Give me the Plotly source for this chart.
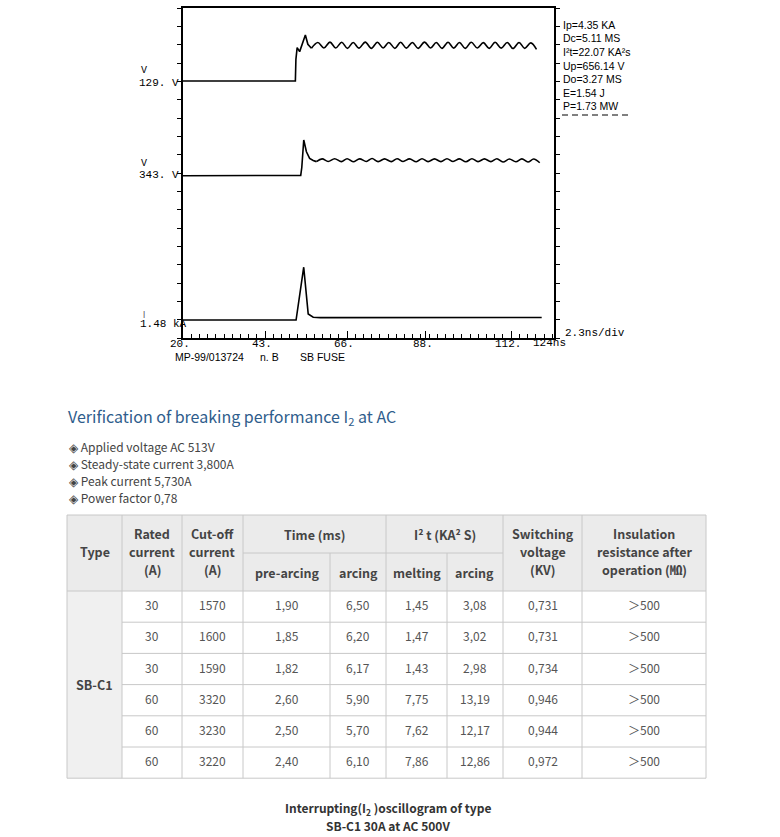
import plotly.graph_objects as go

W, H = 780, 837

# ---------------- oscillogram data (x: time axis units, y: divisions) ----------------
v1_step_t = [20, 51.5, 51.65, 52.0, 52.7, 54.3, 55.0, 56.0]
v1_step_a = [14.02, 14.02, 15.2, 15.84, 15.62, 16.53, 16.02, 15.80]
v1_osc_t = [56.0, 57.8, 59.5, 61.2, 62.8, 64.5, 66.1, 67.7, 69.3, 71.1, 72.8, 74.5, 76.1, 77.7,
            79.4, 81.0, 82.6, 84.3, 85.9, 87.7, 89.4, 91.0, 92.6, 94.3, 95.9, 97.5, 99.1, 100.8,
            102.5, 104.2, 105.8, 107.5, 109.2, 110.9, 112.5, 114.2, 115.8, 117.5, 119.1]
v1_osc_a = [15.80, 16.12, 15.82, 16.14, 15.82, 16.13, 15.80, 16.12, 15.81, 16.14, 15.80, 16.13,
            15.82, 16.12, 15.80, 16.13, 15.81, 16.12, 15.80, 16.14, 15.82, 16.12, 15.80, 16.13,
            15.81, 16.12, 15.80, 16.13, 15.82, 16.11, 15.80, 16.13, 15.81, 16.12, 15.79, 16.12,
            15.80, 16.10, 15.74]

v2_step_t = [20, 53.0, 53.3, 53.85, 54.6, 55.5, 56.5, 57.4]
v2_step_a = [8.85, 8.87, 9.3, 10.80, 10.16, 9.80, 9.68, 9.62]
v2_osc_t = [57.4, 59.0, 60.7, 62.5, 64.4, 66.0, 67.7, 69.5, 71.4, 73.0, 74.7, 76.5, 78.4, 80.0,
            81.7, 83.5, 85.4, 87.0, 88.7, 90.5, 92.3, 94.0, 95.7, 97.5, 99.3, 101.0, 102.7, 104.5,
            106.3, 108.0, 109.7, 111.5, 113.3, 115.0, 116.7, 118.3, 120.0]
v2_osc_a = [9.62, 9.77, 9.63, 9.78, 9.62, 9.78, 9.61, 9.77, 9.63, 9.79, 9.62, 9.77, 9.62, 9.78,
            9.63, 9.77, 9.61, 9.78, 9.62, 9.77, 9.62, 9.78, 9.63, 9.77, 9.61, 9.78, 9.62, 9.77,
            9.62, 9.78, 9.60, 9.76, 9.61, 9.77, 9.60, 9.76, 9.56]

i_t = [20, 51.7, 53.84, 55.1, 56.5, 58.5, 120.55]
i_a = [0.98, 0.98, 3.86, 1.31, 1.13, 1.11, 1.12]

x_tickvals = [20, 43, 66, 88, 112]
x_ticktext = ["20.", "43.", "66.", "88.", "112."]

readouts = ["Ip=4.35 KA", "Dc=5.11 MS", "I²t=22.07 KA²s", "Up=656.14 V",
            "Do=3.27 MS", "E=1.54 J", "P=1.73 MW"]

# ---------------- text / table data ----------------
title_text = "Verification of breaking performance I<sub>2</sub> at AC"
bullets = ["Applied voltage AC 513V", "Steady-state current 3,800A",
           "Peak current 5,730A", "Power factor 0,78"]

fuse_type = "SB-C1"
rated = ["30", "30", "30", "60", "60", "60"]
cutoff = ["1570", "1600", "1590", "3320", "3230", "3220"]
pre_arcing = ["1,90", "1,85", "1,82", "2,60", "2,50", "2,40"]
arcing_ms = ["6,50", "6,20", "6,17", "5,90", "5,70", "6,10"]
melting = ["1,45", "1,47", "1,43", "7,75", "7,62", "7,86"]
arcing_i2t = ["3,08", "3,02", "2,98", "13,19", "12,17", "12,86"]
switching = ["0,731", "0,731", "0,734", "0,946", "0,944", "0,972"]
insulation = ["＞500", "＞500", "＞500", "＞500", "＞500", "＞500"]

caption = ["Interrupting(I<sub>2</sub> )oscillogram of type", "SB-C1 30A at AC 500V"]

# ---------------- layout helpers (pixel -> paper) ----------------
def PX(x):
    return x / W


def PY(y):
    return 1 - y / H


MONO = "Liberation Mono, DejaVu Sans Mono, monospace"
SANS = "Liberation Sans, Arial, sans-serif"
KR = "Noto Sans CJK KR, Noto Sans, sans-serif"

fig = go.Figure()
line_style = dict(color="black", width=1.6)
fig.add_trace(go.Scatter(x=v1_step_t, y=v1_step_a, mode="lines", line=line_style, hoverinfo="skip"))
fig.add_trace(go.Scatter(x=v1_osc_t, y=v1_osc_a, mode="lines", line=dict(line_style, shape="spline"), hoverinfo="skip"))
fig.add_trace(go.Scatter(x=v2_step_t, y=v2_step_a, mode="lines", line=line_style, hoverinfo="skip"))
fig.add_trace(go.Scatter(x=v2_osc_t, y=v2_osc_a, mode="lines", line=dict(line_style, shape="spline"), hoverinfo="skip"))
fig.add_trace(go.Scatter(x=i_t, y=i_a, mode="lines", line=line_style, hoverinfo="skip"))

# plot area in pixels
L, R, T, B = 183, 554, 8, 338

ann = []
shapes = []

def text(x, y, s, size=12, family=KR, color="#444", xanchor="center", bold=False, xref="paper", xshift=0):
    if bold:
        s = "<b>" + s + "</b>"
    ann.append(dict(x=PX(x) if xref == "paper" else x, y=PY(y), xref=xref, yref="paper", text=s,
                    showarrow=False, xanchor=xanchor, yanchor="middle", xshift=xshift,
                    font=dict(size=size, family=family, color=color)))

# oscillogram labels
text(139, 71, "V", 10, MONO, "black", "left")
text(137, 83, "129. V", 11, MONO, "black", "left")
text(139, 163, "V", 10, MONO, "black", "left")
text(137, 175, "343. V", 11, MONO, "black", "left")
text(140, 314, "|", 7, MONO, "black", "left")
text(138, 324, "1.48 kA", 11, MONO, "black", "left")
for v, s in zip(x_tickvals, x_ticktext):
    text(v, 344, s, 11, MONO, "black", "center", xref="x", xshift=-3)
text(549, 343, "124ns", 11, MONO, "black", "center")
text(563, 333, "2.3ns/div", 11, MONO, "black", "left")
text(173, 357, "MP-99/013724", 10.5, SANS, "black", "left")
text(258, 357, "n. B", 10.5, SANS, "black", "left")
text(298, 357, "SB FUSE", 10.5, SANS, "black", "left")
for k, s in enumerate(readouts):
    text(561, 25 + k * 13.5, s, 10.5, SANS, "black", "left")
shapes.append(dict(type="line", xref="paper", yref="paper", x0=PX(562), x1=PX(628), y0=PY(115), y1=PY(115),
                   line=dict(color="black", width=1, dash="6px,4px")))

# title and bullets
text(66, 417, title_text, 16, KR, "#2f5d8c", "left")
for k, b in enumerate(bullets):
    text(67, 446 + k * 17, "◈ " + b, 12, KR, "#444", "left")

# ---------------- table ----------------
cols = [67, 122, 182, 243, 330, 386, 447, 503, 582, 706]
top, mid, hb = 515, 553, 591
row_h = 31.2
nrows = len(rated)
bottom = hb + row_h * nrows
grid = "#c8c8c8"

def rect(x0, y0, x1, y1, fill):
    shapes.append(dict(type="rect", xref="paper", yref="paper", x0=PX(x0), x1=PX(x1), y0=PY(y1), y1=PY(y0),
                       fillcolor=fill, line=dict(width=0), layer="below"))

def hline(x0, x1, y):
    shapes.append(dict(type="line", xref="paper", yref="paper", x0=PX(x0), x1=PX(x1), y0=PY(y), y1=PY(y),
                       line=dict(color=grid, width=1)))

def vline(x, y0, y1):
    shapes.append(dict(type="line", xref="paper", yref="paper", x0=PX(x), x1=PX(x), y0=PY(y0), y1=PY(y1),
                       line=dict(color=grid, width=1)))

rect(cols[0], top, cols[-1], hb, "#ebebeb")
rect(cols[0], hb, cols[1], bottom, "#f0f0f0")
hline(cols[0], cols[-1], top)
hline(cols[0], cols[-1], hb)
hline(cols[0], cols[-1], bottom)
hline(cols[3], cols[7], mid)
for r in range(1, nrows):
    hline(cols[1], cols[-1], hb + r * row_h)
for k, c in enumerate(cols):
    if k in (4, 6):
        vline(c, mid, bottom)
    else:
        vline(c, top, bottom)

# header texts
hc = "#444"
def ctr(a, b):
    return (cols[a] + cols[b]) / 2

text(ctr(0, 1), 551, "Type", 12.5, KR, hc, bold=True)
for k, s in enumerate(["Rated", "current", "(A)"]):
    text(ctr(1, 2), 533 + k * 18, s, 12.5, KR, hc, bold=True)
for k, s in enumerate(["Cut-off", "current", "(A)"]):
    text(ctr(2, 3), 533 + k * 18, s, 12.5, KR, hc, bold=True)
text(ctr(3, 5), 534, "Time (ms)", 12.5, KR, hc, bold=True)
text(ctr(3, 4), 572, "pre-arcing", 12.5, KR, hc, bold=True)
text(ctr(4, 5), 572, "arcing", 12.5, KR, hc, bold=True)
text(ctr(5, 7), 534, "I² t (KA² S)", 12.5, KR, hc, bold=True)
text(ctr(5, 6), 572, "melting", 12.5, KR, hc, bold=True)
text(ctr(6, 7), 572, "arcing", 12.5, KR, hc, bold=True)
for k, s in enumerate(["Switching", "voltage", "(KV)"]):
    text(ctr(7, 8), 533 + k * 18, s, 12.5, KR, hc, bold=True)
for k, s in enumerate(["Insulation", "resistance after", "operation (㏁)"]):
    text(ctr(8, 9), 533 + k * 18, s, 12.5, KR, hc, bold=True)

# body
text(ctr(0, 1), (hb + bottom) / 2, fuse_type, 12.5, KR, hc, bold=True)
body_cols = [rated, cutoff, pre_arcing, arcing_ms, melting, arcing_i2t, switching, insulation]
for ci, vals in enumerate(body_cols):
    for r, v in enumerate(vals):
        text(ctr(ci + 1, ci + 2), hb + (r + 0.5) * row_h - 2, v, 12, KR, "#555")

# caption
for k, s in enumerate(caption):
    text(388, 808 + k * 17.5, s, 12, KR, "#333", bold=True)

fig.update_layout(
    width=W, height=H, margin=dict(l=0, r=0, t=0, b=0, autoexpand=False),
    paper_bgcolor="white", plot_bgcolor="white", showlegend=False,
    annotations=ann, shapes=shapes,
    xaxis=dict(domain=[PX(L), PX(R)], range=[20, 124], showgrid=False, zeroline=False,
               showline=True, linecolor="black", linewidth=2, mirror=True,
               tickvals=x_tickvals, ticks="inside", ticklen=7, showticklabels=False,
               tickcolor="black", tickwidth=1.3,
               minor=dict(tick0=20, dtick=2.3, ticks="inside", ticklen=4, tickcolor="black",
                          tickwidth=1.3, showgrid=False)),
    yaxis=dict(domain=[PY(B), PY(T)], range=[0, 18], showgrid=False, zeroline=False,
               showline=True, linecolor="black", linewidth=2, mirror="ticks",
               dtick=1, ticks="outside", ticklen=4, tickcolor="black", tickwidth=1.3,
               showticklabels=False),
)

fig.write_html("out.html", config={"displayModeBar": False},
               post_script="document.body.style.margin='0';document.body.style.overflow='hidden';")
